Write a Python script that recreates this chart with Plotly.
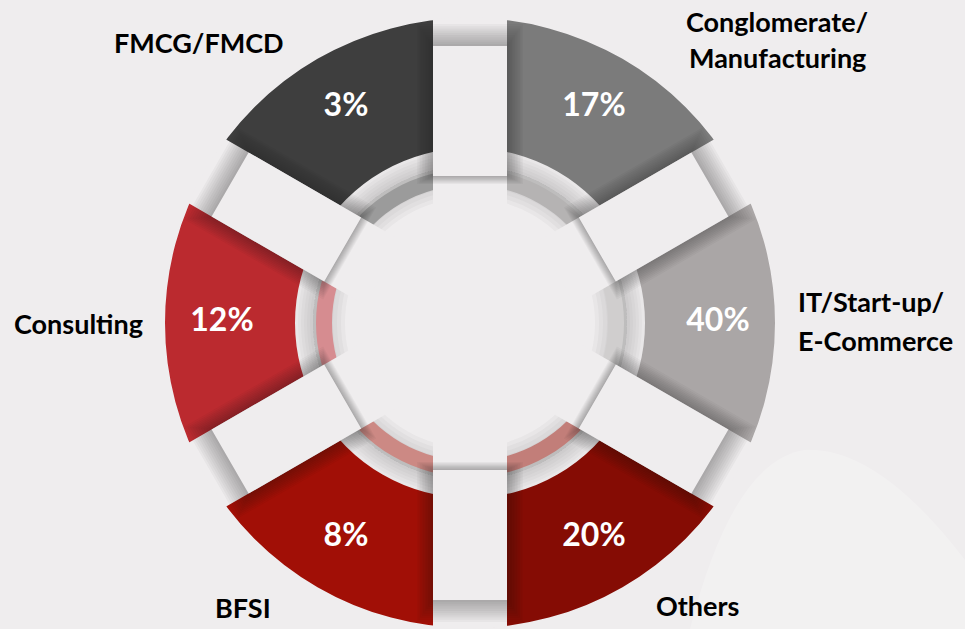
import numpy as np
import plotly.graph_objects as go

# ---------------- data ----------------
categories = ["Conglomerate/<br>Manufacturing", "IT/Start-up/<br>E-Commerce", "Others",
              "BFSI", "Consulting", "FMCG/FMCD"]
shares = [17, 40, 20, 8, 12, 3]
theta_centers = [30, 90, 150, 210, 270, 330]
seg_colors = ["#7b7b7b", "#aaa6a6", "#850c04", "#a10f06", "#bb2a2f", "#3e3e3e"]
ring_colors = ["#b5b3b3", "#d0cece", "#c27e79", "#cc8984", "#d68c90", "#9b9b9b"]
gap_angles = [0, 60, 120, 180, 240, 300]

# label placement (pixel positions of each text line, layout only)
label_pos = [
    [(777, 22), (777, 58)],
    [(796, 301), (796, 340)],
    [(697, 605)],
    [(243, 607)],
    [(78, 323)],
    [(199, 42)],
]
label_anchor = ["center", "left", "center", "center", "center", "center"]

W, H = 965, 629
CX, CY = 470, 323
RPX = H - CY  # polar radius in px
BG = "#efedee"

R_OUT, R_IN = RPX - 1, 175
RING_IN, RING_OUT = 138, 154
HW = 37
BOX_D1, BOX_D2 = 147, 277


def strips(d1, d2, hw):
    rr, tt = [], []
    for g in gap_angles:
        for d, s in [(d1, -hw), (d2, -hw), (d2, hw), (d1, hw), (d1, -hw)]:
            rr.append(float(np.hypot(d, s)))
            tt.append(g + float(np.degrees(np.arctan2(s, d))))
        rr.append(None)
        tt.append(None)
    return rr, tt


def ring(r0, r1, color):
    return go.Barpolar(r=[r1 - r0] * 6, base=[r0] * 6, theta=theta_centers, width=[60] * 6,
                       marker=dict(color=color, line=dict(width=0)),
                       hoverinfo="skip", showlegend=False)


fig = go.Figure()

# soft inner shadow circle
for k in range(8):
    fig.add_trace(ring(157 - 4 * (k + 1), 157, "rgba(60,50,50,0.035)"))
for k in range(6):
    fig.add_trace(ring(157, 157 + 3 * (k + 1), "rgba(60,50,50,0.03)"))

# main segments
fig.add_trace(go.Barpolar(r=[R_OUT - R_IN] * 6, base=[R_IN] * 6, theta=theta_centers, width=[60] * 6,
                          marker=dict(color=seg_colors, line=dict(width=0)),
                          text=[c.replace("<br>", " ") for c in categories],
                          hoverinfo="text", showlegend=False))
# thin inner ring
fig.add_trace(ring(RING_IN, RING_OUT, ring_colors))

# gap masks
rr, tt = strips(100, RPX + 4, HW)
fig.add_trace(go.Scatterpolar(r=rr, theta=tt, mode="lines", fill="toself", fillcolor=BG,
                              line=dict(width=0, color=BG), hoverinfo="skip", showlegend=False))

# soft box shadows
for k in range(10):
    e = 2 * (k + 1)
    rr, tt = strips(BOX_D1 - e * 0.4, BOX_D2 + e * 1.1, HW + e * 0.8)
    fig.add_trace(go.Scatterpolar(r=rr, theta=tt, mode="lines", fill="toself",
                                  fillcolor="rgba(30,20,20,0.036)", line=dict(width=0),
                                  hoverinfo="skip", showlegend=False))
# boxes
rr, tt = strips(BOX_D1, BOX_D2, HW)
fig.add_trace(go.Scatterpolar(r=rr, theta=tt, mode="lines", fill="toself", fillcolor=BG,
                              line=dict(width=0, color=BG), hoverinfo="skip", showlegend=False))

# percentages
fig.add_trace(go.Scatterpolar(r=[248] * 6, theta=theta_centers, mode="text",
                              text=[f"{v}%" for v in shares],
                              textfont=dict(family="Lato", size=32, color="white", weight=700),
                              hoverinfo="skip", showlegend=False))

annotations = []
for cat, pos, anc in zip(categories, label_pos, label_anchor):
    for line, (px, py) in zip(cat.split("<br>"), pos):
        annotations.append(dict(x=px / W, y=1 - py / H, xref="paper", yref="paper", text=line,
                                showarrow=False, xanchor=anc, yanchor="middle",
                                font=dict(family="Lato", size=27, color="#000000", weight=700)))

fig.update_layout(
    width=W, height=H, margin=dict(l=0, r=0, t=0, b=0),
    paper_bgcolor=BG, plot_bgcolor=BG,
    showlegend=False,
    annotations=annotations,
    shapes=[dict(type="path", xref="paper", yref="paper",
                 path="M 0.715,0 Q 0.76,0.27 0.835,0.285 Q 0.91,0.29 1.0,0.11 L 1.0,0 Z",
                 fillcolor="rgba(255,255,255,0.22)", line=dict(width=0), layer="below")],
    polar=dict(
        domain=dict(x=[(CX - RPX) / W, (CX + RPX) / W], y=[0, 2 * RPX / H]),
        bgcolor="rgba(0,0,0,0)",
        radialaxis=dict(visible=False, range=[0, RPX], showgrid=False),
        angularaxis=dict(visible=False, rotation=90, direction="clockwise", showgrid=False),
    ),
)

fig.write_html("out.html", config={"displayModeBar": False},
               post_script="document.body.style.margin='0';")
